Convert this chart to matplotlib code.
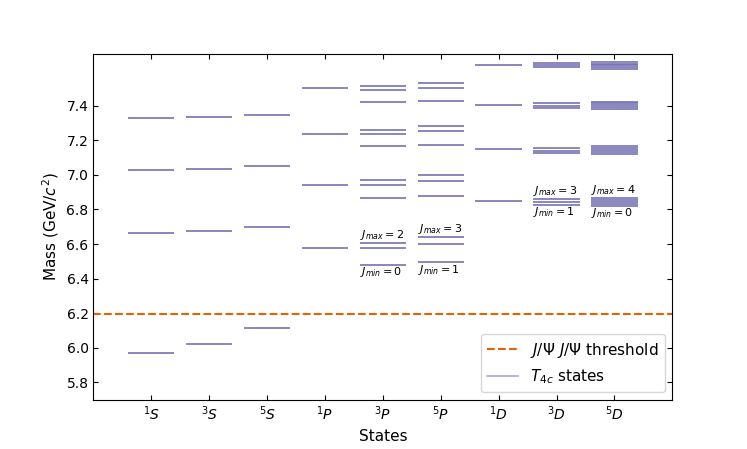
import matplotlib
matplotlib.use("Agg")
import matplotlib.pyplot as plt
from matplotlib.lines import Line2D

# state labels and mass levels (GeV/c^2)
states = ['$^1S$', '$^3S$', '$^5S$', '$^1P$', '$^3P$', '$^5P$', '$^1D$', '$^3D$', '$^5D$']

m_1S = [5.968, 6.664, 7.027, 7.327]
m_3S = [6.019, 6.674, 7.035, 7.333]
m_5S = [6.115, 6.699, 7.049, 7.344]
m_1P = [6.577, 6.944, 7.236, 7.504]
m_3P = [6.481, 6.577, 6.608, 6.867, 6.944, 6.971,
        7.165, 7.236, 7.259, 7.423, 7.489, 7.514]
m_5P = [6.494, 6.600, 6.641, 6.877, 6.962, 6.997,
        7.170, 7.252, 7.282, 7.427, 7.501, 7.533]
m_1D = [6.848, 7.147, 7.406, 7.638]
m_3D = [6.828, 6.843, 6.858, 7.127, 7.141, 7.156,
        7.386, 7.400, 7.414, 7.625, 7.636, 7.647]
m_5D = [6.821, 6.833, 6.845, 6.857, 6.868,
        7.118, 7.130, 7.142, 7.154, 7.166,
        7.379, 7.391, 7.402, 7.413, 7.424,
        7.615, 7.624, 7.633, 7.642, 7.651]
masses = [m_1S, m_3S, m_5S, m_1P, m_3P, m_5P, m_1D, m_3D, m_5D]

threshold = 6.194

# J range labels: (state index, J_max, J_min, lowest band size)
j_labels = [(4, 2, 0, 3), (5, 3, 1, 3), (7, 3, 1, 3), (8, 4, 0, 5)]

line_col = '#7570b3'
fig, ax = plt.subplots(figsize=(7.47, 4.49), dpi=100)

for i, lev in enumerate(masses):
    ax.hlines(lev, i - 0.4, i + 0.4, color=line_col, lw=1.4, alpha=0.85)

ax.axhline(threshold, color='#e66101', ls='--', lw=1.5)

for i, jmax, jmin, n in j_labels:
    band = sorted(masses[i])[:n]
    ax.text(i - 0.4, band[-1] + 0.006, r'$J_{max} = %d$' % jmax,
            fontsize=8, ha='left', va='bottom')
    ax.text(i - 0.4, band[0] - 0.002, r'$J_{min} = %d$' % jmin,
            fontsize=8, ha='left', va='top')

ax.set_xlim(-1, 9)
ax.set_ylim(5.7, 7.7)
ax.set_xticks(range(len(states)))
ax.set_xticklabels(states, fontsize=11)
ax.set_yticks([5.8, 6.0, 6.2, 6.4, 6.6, 6.8, 7.0, 7.2, 7.4])
ax.tick_params(direction='in', top=True, right=True, labelsize=10)
ax.set_xlabel('States', fontsize=11)
ax.set_ylabel('Mass (GeV/$c^2$)', fontsize=11)

handles = [Line2D([], [], color='#e66101', ls='--', lw=1.5),
           Line2D([], [], color=line_col, lw=1.2, alpha=0.6)]
ax.legend(handles, [r'$J/\Psi\ J/\Psi$ threshold', r'$T_{4c}$ states'],
          loc='lower right', fontsize=11)

fig.savefig('out.png')
